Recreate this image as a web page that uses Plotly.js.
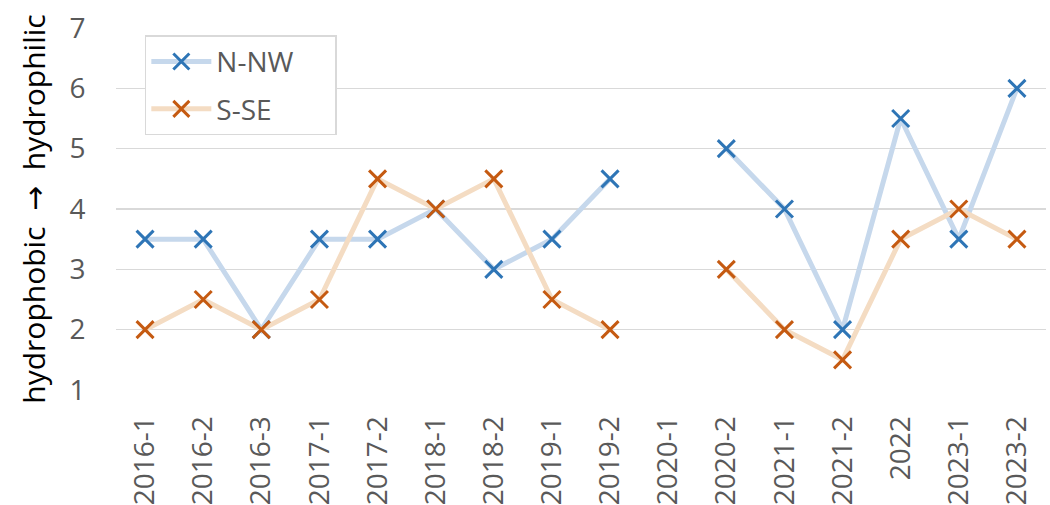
<!DOCTYPE html>
<html>
<head>
<meta charset="utf-8">
<script src="https://cdn.plot.ly/plotly-3.0.1.min.js"></script>
<style>
  html, body { margin: 0; padding: 0; background: #fff; }
  #chart { width: 1050px; height: 505px; }
</style>
</head>
<body>
<div id="chart"></div>
<script>
// Sampling campaigns (year-campaign)
const categories = ["2016-1", "2016-2", "2016-3", "2017-1", "2017-2", "2018-1", "2018-2",
  "2019-1", "2019-2", "2020-1", "2020-2", "2021-1", "2021-2", "2022", "2023-1", "2023-2"];

// Wettability score per campaign; null = no measurement
const nnwValues = [3.5, 3.5, 2, 3.5, 3.5, 4, 3, 3.5, 4.5, null, 5, 4, 2, 5.5, 3.5, 6];
const sseValues = [2, 2.5, 2, 2.5, 4.5, 4, 4.5, 2.5, 2, null, 3, 2, 1.5, 3.5, 4, 3.5];

const yTicks = [1, 2, 3, 4, 5, 6, 7];

const tickFont = { family: "Open Sans, sans-serif", size: 28, color: "#595959" };

// trailing no-break spaces give the legend box some right-hand padding
const pad = "\u00a0\u00a0\u00a0\u00a0\u00a0";

function series(name, values, lineColor, markerColor) {
  return {
    type: "scatter",
    mode: "lines+markers",
    name: name + pad,
    legendgroup: name,
    x: categories,
    y: values,
    connectgaps: false,
    line: { color: lineColor, width: 5 },
    marker: {
      symbol: "x-thin",
      size: 17,
      color: markerColor,
      line: { color: markerColor, width: 3 }
    }
  };
}

const traces = [
  series("N-NW", nnwValues, "#c6d8ec", "#2e75b6"),
  series("S-SE", sseValues, "#f4dcc3", "#c55a11")
];

const layout = {
  width: 1050,
  height: 505,
  margin: { l: 116, r: 4, t: 28, b: 115 },
  paper_bgcolor: "#ffffff",
  plot_bgcolor: "#ffffff",
  showlegend: true,
  legend: {
    x: 0.031, y: 0.98, xanchor: "left", yanchor: "top",
    bgcolor: "#ffffff",
    bordercolor: "#d9d9d9",
    borderwidth: 1.5,
    font: { family: "Open Sans, sans-serif", size: 28, color: "#595959" },
    tracegroupgap: 8,
    itemwidth: 60
  },
  xaxis: {
    type: "category",
    categoryarray: categories,
    range: [-0.5, categories.length - 0.5],
    tickangle: -90,
    tickfont: tickFont,
    ticks: "outside",
    ticklen: 14,
    tickcolor: "rgba(0,0,0,0)",
    showgrid: false,
    showline: false,
    zeroline: false,
    automargin: false
  },
  yaxis: {
    range: [1, 7],
    tickvals: yTicks,
    ticktext: yTicks.map(String),
    tickfont: tickFont,
    ticks: "outside",
    ticklen: 24,
    tickcolor: "rgba(0,0,0,0)",
    showgrid: true,
    gridcolor: "#d9d9d9",
    gridwidth: 1.5,
    zeroline: false,
    showline: false,
    automargin: false,
    title: {
      text: "hydrophobic  <span style=\"font-family:'DejaVu Sans'\">\u2192</span>  hydrophilic",
      font: { family: "Open Sans, sans-serif", size: 30, color: "#000000" },
      standoff: 14
    }
  }
};

Plotly.newPlot("chart", traces, layout, { displayModeBar: false, staticPlot: true });
</script>
</body>
</html>
